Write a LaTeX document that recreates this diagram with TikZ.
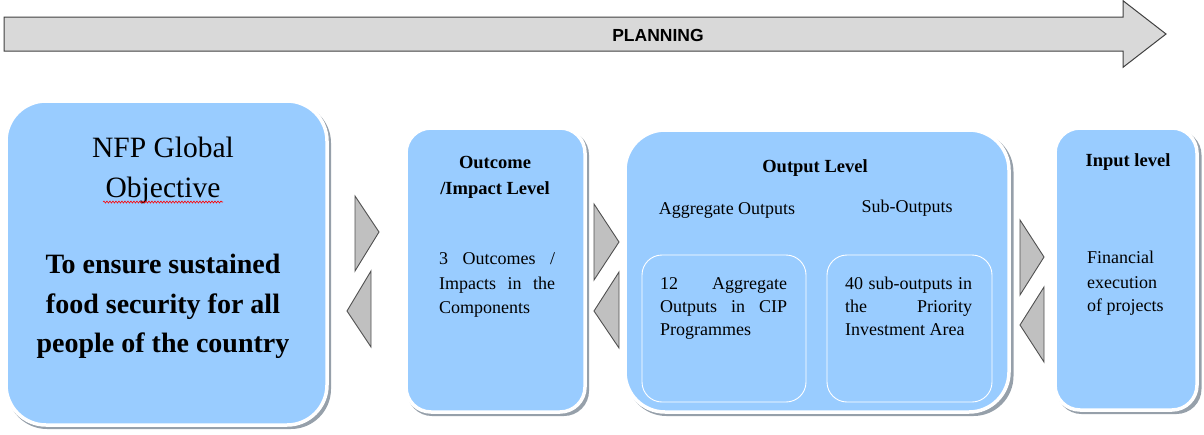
\documentclass[tikz,border=0pt]{standalone}
\usepackage{fontspec}
\IfFontExistsTF{LiberationSerif-Regular.ttf}
  {\setmainfont{LiberationSerif}[Extension=.ttf, UprightFont=*-Regular, BoldFont=*-Bold, ItalicFont=*-Italic, BoldItalicFont=*-BoldItalic]}
  {\setmainfont{Liberation Serif}}
\newfontfamily\arialf{Liberation Sans}
\usetikzlibrary{decorations.pathmorphing}
\definecolor{boxblue}{RGB}{153,204,255}
\definecolor{trifill}{RGB}{192,192,192}
\definecolor{triline}{RGB}{80,80,80}
\definecolor{arrfill}{RGB}{217,217,217}
\definecolor{arrline}{RGB}{64,64,64}
\definecolor{shadowgray}{RGB}{150,160,170}
\tikzset{
  panel/.style={draw=white, line width=3.5pt, fill=boxblue, inner sep=0pt},
  panelshadow/.style={fill=shadowgray, draw=none, inner sep=0pt},
  innerbox/.style={draw=white, line width=0.9pt, inner sep=0pt, rounded corners=20pt},
  tri/.style={fill=trifill, draw=triline, line width=0.9pt, line join=miter},
  txt/.style={inner sep=0pt, anchor=base, font=\rmfamily\fontsize{18}{24}\selectfont},
  txtl/.style={inner sep=0pt, anchor=base west, font=\rmfamily\fontsize{18}{24}\selectfont},
  ttl/.style={inner sep=0pt, anchor=base, font=\rmfamily\fontsize{18.5}{24}\selectfont\bfseries},
  big/.style={inner sep=0pt, anchor=base, font=\rmfamily\fontsize{29.5}{40}\selectfont},
  bigb/.style={inner sep=0pt, anchor=base, font=\rmfamily\fontsize{28}{40}\selectfont\bfseries},
}
\begin{document}
\begin{tikzpicture}[x=1pt,y=-1pt]
\useasboundingbox (0,0) rectangle (1204,434);
% planning arrow
\draw[fill=arrfill, draw=arrline, line width=1pt, line join=miter]
  (4,17) -- (1123,17) -- (1123,0.7) -- (1166,34) -- (1123,67.3) -- (1123,51) -- (4,51) -- cycle;
\node[inner sep=0pt, anchor=base, font=\arialf\bfseries\fontsize{17.5}{20}\selectfont] (plan) at (658,41) {PLANNING};

% shadows
\node[panelshadow, rounded corners=40pt, minimum width=324pt, minimum height=326pt] (s1) at (169,266) {};
\node[panelshadow, rounded corners=25pt, minimum width=182pt, minimum height=286pt] (s2) at (498,273) {};
\node[panelshadow, rounded corners=40pt, minimum width=387pt, minimum height=284pt] (s3) at (820,274) {};
\node[panelshadow, rounded corners=25pt, minimum width=145pt, minimum height=284pt] (s4) at (1129,272) {};

% panels
\node[panel, rounded corners=40pt, minimum width=321pt, minimum height=324pt] (b1) at (166.5,263) {};
\node[panel, rounded corners=25pt, minimum width=179pt, minimum height=284pt] (b2) at (495.5,270) {};
\node[panel, rounded corners=40pt, minimum width=384pt, minimum height=282pt] (b3) at (817,271) {};
\node[panel, rounded corners=25pt, minimum width=142pt, minimum height=282pt] (b4) at (1126,269) {};

% inner boxes
\node[innerbox, minimum width=164pt, minimum height=147pt] (i1) at (724,328.5) {};
\node[innerbox, minimum width=165pt, minimum height=147pt] (i2) at (909.5,328.5) {};

% triangles
\draw[tri] (355,196) -- (379,232) -- (355,271) -- cycle;
\draw[tri] (371,271) -- (347,311) -- (371,347) -- cycle;
\draw[tri] (594,204) -- (619,242) -- (594,280) -- cycle;
\draw[tri] (619,272) -- (594,311) -- (619,348) -- cycle;
\draw[tri] (1020,220) -- (1044,257) -- (1020,295) -- cycle;
\draw[tri] (1044,287) -- (1020,325) -- (1044,362) -- cycle;

% box 1 text
\node[big] (t1a) at (163,157) {NFP Global};
\node[big] (t1b) at (163,197) {Objective};
\draw[red, line width=0.6pt, decorate, decoration={snake, amplitude=1pt, segment length=3pt}] (103,202) -- (223,202);
\node[bigb] (t1c) at (163,273) {To ensure sustained};
\node[bigb] (t1d) at (163,313) {food security for all};
\node[bigb] (t1e) at (163,352) {people of the country};

% box 2 text
\node[ttl] (t2a) at (495,168) {Outcome};
\node[ttl] (t2b) at (495,194) {/Impact Level};
\node[txtl] (t2c) at (439,264) {\makebox[116pt][s]{3 Outcomes /}};
\node[txtl] (t2d) at (439,289) {\makebox[116pt][s]{Impacts in the}};
\node[txtl] (t2e) at (439,313) {Components};

% box 3 text
\node[ttl] (t3a) at (815,172) {Output Level};
\node[txt] (t3b) at (727,214) {Aggregate Outputs};
\node[txt] (t3c) at (907,212) {Sub-Outputs};
\node[txtl] (t3d) at (660,289) {\makebox[127pt][s]{12 Aggregate}};
\node[txtl] (t3e) at (660,312) {\makebox[127pt][s]{Outputs in CIP}};
\node[txtl] (t3f) at (660,335) {Programmes};
\node[txtl] (t3g) at (845,289) {\makebox[127pt][s]{40 sub-outputs in}};
\node[txtl] (t3h) at (845,312) {\makebox[127pt][s]{the Priority}};
\node[txtl] (t3i) at (845,335) {Investment Area};

% box 4 text
\node[ttl] (t4a) at (1128,166) {Input level};
\node[txtl] (t4b) at (1087,263) {Financial};
\node[txtl] (t4c) at (1087,288) {execution};
\node[txtl] (t4d) at (1087,311) {of projects};
\end{tikzpicture}
\end{document}
